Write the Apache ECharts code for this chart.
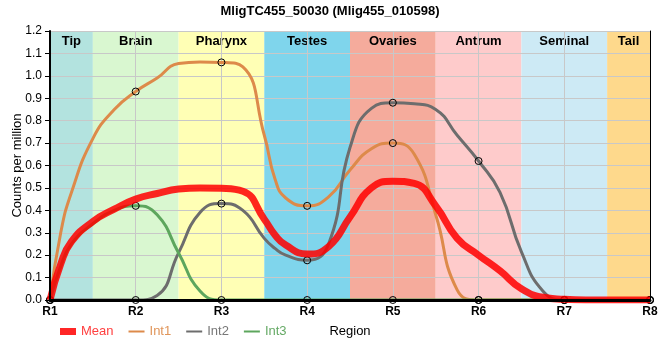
<!DOCTYPE html>
<html><head><meta charset="utf-8">
<script src="https://cdn.jsdelivr.net/npm/echarts@6/dist/echarts.min.js"></script>
<style>html,body{margin:0;padding:0;background:#fff}#c{width:660px;height:360px}</style>
</head><body><div id="c"></div>
<script>
// sample positions along the region axis (R1 = 1 ... R8 = 8)
const positions = [1,1.125,1.25,1.5,1.75,2,2.25,2.5,2.75,3,3.25,3.5,3.625,3.75,4,4.25,4.5,4.75,5,5.25,5.5,5.75,6,6.25,6.5,6.75,7,7.25,7.5,7.75,8];
const meanValues = [0,0.16,0.26,0.35,0.405,0.45,0.475,0.495,0.5,0.498,0.485,0.36,0.29,0.245,0.205,0.238,0.37,0.5,0.53,0.52,0.42,0.275,0.2,0.13,0.05,0.012,0.003,0,0,0,0];
const int1Values = [0,0.3,0.48,0.72,0.85,0.93,0.99,1.055,1.062,1.06,1.04,0.735,0.54,0.455,0.42,0.46,0.58,0.675,0.70,0.65,0.38,0.045,0,0,0,0,0,0,0,0,0];
const int2Values = [0,0,0,0,0,0,0.02,0.21,0.39,0.43,0.40,0.275,0.23,0.20,0.177,0.25,0.68,0.855,0.88,0.875,0.85,0.735,0.62,0.48,0.215,0.04,0,0,0,0,0];
const int3Values = [0,0.15,0.25,0.34,0.40,0.42,0.38,0.21,0.04,0,0,0,0,0,0,0,0,0,0,0,0,0,0,0,0,0,0,0,0,0,0];
const regionLabels = ['R1','R2','R3','R4','R5','R6','R7','R8'];
const bandNames = ['Tip','Brain','Pharynx','Testes','Ovaries','Antrum','Seminal','Tail'];
const bandEdges = [1,1.5,2.5,3.5,4.5,5.5,6.5,7.5,8];
const bandColors = ['#b3e3df','#d9f7d0','#ffffb5','#7fd5ec','#f5ab9c','#fecbcb','#cdeaf5','#fed98c'];
const seriesNames = ['Mean','Int1','Int2','Int3'];
const seriesColors = ['rgba(255,0,0,0.85)','#dd8a4a','#6d6d6d','#5da65d'];
const legendTextColors = ['#ff4040','#e0955a','#777777','#66aa66'];

function toData(values, markers) {
  return positions.map((x, i) => ({
    value: [x, values[i]],
    symbol: markers && Number.isInteger(x) ? 'circle' : 'none'
  }));
}

const bands = bandNames.map((n, i) => [
  {name: n, xAxis: bandEdges[i], itemStyle: {color: bandColors[i]}},
  {xAxis: bandEdges[i + 1]}
]);

const font = 'Liberation Sans, Arial, sans-serif';
const chart = echarts.init(document.getElementById('c'), null, {renderer: 'canvas'});
const markerStyle = {color: 'transparent', borderColor: '#000', borderWidth: 1};

chart.setOption({
  animation: false,
  textStyle: {fontFamily: font},
  title: {
    text: 'MligTC455_50030 (Mlig455_010598)', left: 'center', top: 0,
    textStyle: {fontSize: 13, fontWeight: 'bold', color: '#000', fontFamily: font}
  },
  legend: {
    left: 55, top: 320, itemWidth: 16, itemHeight: 7, itemGap: 15,
    textStyle: {fontSize: 13, fontFamily: font},
    data: seriesNames.map((n, i) => ({
      name: n,
      icon: i === 0 ? 'rect' : 'path://M0,0H16V2H0Z',
      itemStyle: {color: seriesColors[i], borderWidth: 0},
      textStyle: {color: legendTextColors[i]}
    }))
  },
  grid: {left: 50, right: 10, top: 31, bottom: 60, outerBoundsMode: 'none', containLabel: false},
  xAxis: [{
    type: 'value', min: 1, max: 8, interval: 1, position: 'bottom', z: 10,
    name: 'Region', nameLocation: 'middle', nameGap: 25, nameMoveOverlap: false,
    nameTextStyle: {color: '#000', fontSize: 13, fontFamily: font},
    axisLine: {lineStyle: {color: '#000', width: 3}},
    axisTick: {show: false},
    axisLabel: {color: '#000', fontSize: 12, fontWeight: 'bold', margin: 6,
      formatter: v => regionLabels[v - 1] || ''},
    splitLine: {show: false}
  }, {
    type: 'value', min: 1, max: 8, interval: 1, position: 'top',
    axisLine: {show: true, lineStyle: {color: '#000', width: 1}},
    axisTick: {show: false}, axisLabel: {show: false},
    splitLine: {show: true, lineStyle: {color: '#c8c8c8', width: 1}}
  }],
  yAxis: [{
    type: 'value', min: 0, max: 1.2, interval: 0.1, position: 'left', z: 10,
    name: 'Counts per million', nameLocation: 'middle', nameGap: 26, nameMoveOverlap: false,
    nameTextStyle: {color: '#000', fontSize: 13, fontFamily: font},
    axisLine: {show: true, lineStyle: {color: '#000', width: 2}},
    axisTick: {show: true, length: 5, lineStyle: {color: '#000'}},
    axisLabel: {color: '#000', fontSize: 12, margin: 8, formatter: v => v.toFixed(1)},
    splitLine: {show: false}
  }, {
    type: 'value', min: 0, max: 1.2, interval: 0.1, position: 'right',
    axisLine: {show: true, lineStyle: {color: '#000', width: 1}},
    axisTick: {show: false}, axisLabel: {show: false},
    splitLine: {show: true, lineStyle: {color: '#c8c8c8', width: 1}}
  }],
  series: [
    {
      name: 'bands', type: 'line', data: [], z: -1, silent: true,
      markArea: {
        silent: true, z: -1,
        label: {show: true, position: 'insideTop', distance: 4, color: '#000',
          fontSize: 13, fontWeight: 'bold', fontFamily: font},
        data: bands
      }
    },
    {
      name: 'Mean', type: 'line', data: toData(meanValues, false), smooth: 0.5, z: 5,
      color: seriesColors[0],
      lineStyle: {width: 7, color: seriesColors[0]}
    },
    {
      name: 'Int1', type: 'line', data: toData(int1Values, true), smooth: 0.5, z: 3,
      color: seriesColors[1], symbolSize: 7, itemStyle: markerStyle,
      lineStyle: {width: 3, color: seriesColors[1]}
    },
    {
      name: 'Int2', type: 'line', data: toData(int2Values, true), smooth: 0.5, z: 3,
      color: seriesColors[2], symbolSize: 7, itemStyle: markerStyle,
      lineStyle: {width: 3, color: seriesColors[2]}
    },
    {
      name: 'Int3', type: 'line', data: toData(int3Values, true), smooth: 0.5, z: 3,
      color: seriesColors[3], symbolSize: 7, itemStyle: markerStyle,
      lineStyle: {width: 3, color: seriesColors[3]}
    }
  ]
});
</script></body></html>
